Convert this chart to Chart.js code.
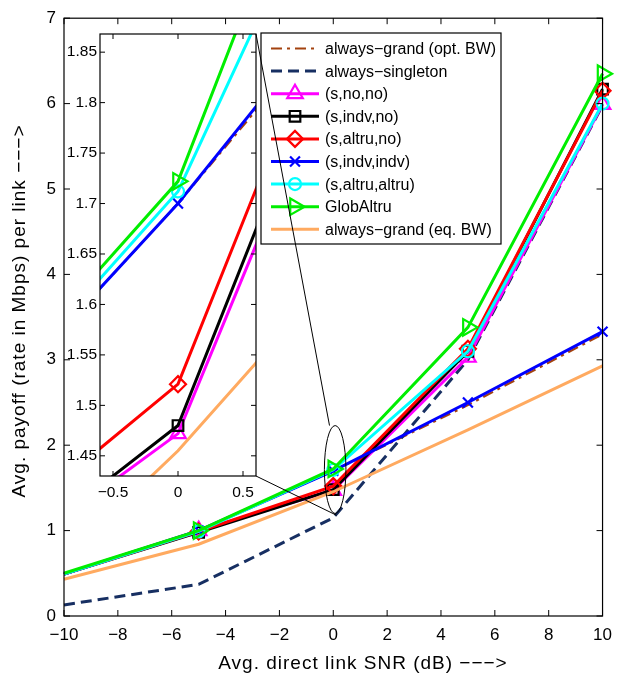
<!DOCTYPE html>
<html>
<head>
<meta charset="utf-8">
<script src="https://cdn.jsdelivr.net/npm/chart.js@4.4.1/dist/chart.umd.min.js"></script>
<style>
    html, body { margin: 0; padding: 0; background: #fff; }
    #contenedor { position: relative; width: 621px; height: 673px; }
    #contenedor canvas { position: absolute; left: 0; top: 0; }
</style>
</head>
<body>
<div id="contenedor">
    <canvas id="graficaPrincipal" width="621" height="673"></canvas>
    <canvas id="graficaZoom" width="621" height="673"></canvas>
</div>
<script>
// valores
const snr = [-10, -5, 0, 5, 10];

const grandOpt    = [0.49, 1.00, 1.70, 2.47, 3.30];
const singleton   = [0.13, 0.37, 1.15, 3.00, 5.98];
const sNoNo       = [0.49, 1.00, 1.472, 3.03, 5.99];
const sIndvNo     = [0.49, 0.98, 1.48, 3.10, 6.17];
const sAltruNo    = [0.49, 0.99, 1.521, 3.13, 6.15];
const sIndvIndv   = [0.49, 1.00, 1.70, 2.50, 3.33];
const sAltruAltru = [0.49, 0.99, 1.712, 3.10, 6.00];
const globAltru   = [0.50, 1.00, 1.722, 3.38, 6.35];
const grandEq     = [0.43, 0.84, 1.455, 2.18, 2.93];

const etiquetas = [
    "always\u2212grand (opt. BW)",
    "always\u2212singleton",
    "(s,no,no)",
    "(s,indv,no)",
    "(s,altru,no)",
    "(s,indv,indv)",
    "(s,altru,altru)",
    "GlobAltru",
    "always\u2212grand (eq. BW)"
];

const ticksX = [-10, -8, -6, -4, -2, 0, 2, 4, 6, 8, 10];
const ticksY = [0, 1, 2, 3, 4, 5, 6, 7];
const ticksZoomX = [-0.5, 0, 0.5];
const ticksZoomY = [1.45, 1.5, 1.55, 1.6, 1.65, 1.7, 1.75, 1.8, 1.85];

const FUENTE = "'Liberation Sans', Arial, Helvetica, sans-serif";
Chart.defaults.font.family = FUENTE;
Chart.defaults.color = "#000";

const estilos = [
    { color: "#a3420f", ancho: 2.2, guion: [11, 5, 3, 5], marca: false },
    { color: "#172f62", ancho: 3,   guion: [11, 6],       marca: false },
    { color: "#ff00ff", ancho: 3,   guion: [], marca: "triangle", radio: 9, giro: 0 },
    { color: "#000000", ancho: 3,   guion: [], marca: "rect",     radio: 7.5, giro: 0 },
    { color: "#ff0000", ancho: 3,   guion: [], marca: "rectRot",  radio: 8, giro: 0 },
    { color: "#0000ff", ancho: 3,   guion: [], marca: "crossRot", radio: 7, giro: 0 },
    { color: "#00ffff", ancho: 3,   guion: [], marca: "circle",   radio: 6, giro: 0 },
    { color: "#00ee00", ancho: 3,   guion: [], marca: "triangle", radio: 9.5, giro: 90 },
    { color: "#ffaa60", ancho: 3,   guion: [], marca: false }
];

const valores = [grandOpt, singleton, sNoNo, sIndvNo, sAltruNo, sIndvIndv, sAltruAltru, globAltru, grandEq];

function menos(v) {
    return String(v).replace("-", "\u2212");
}

function crearDatasets(recortar) {
    return valores.map((serie, i) => {
        const e = estilos[i];
        return {
            label: etiquetas[i],
            data: serie.map((y, k) => ({ x: snr[k], y: y })),
            borderColor: e.color,
            borderWidth: e.ancho,
            borderDash: e.guion,
            borderCapStyle: "butt",
            borderJoinStyle: "miter",
            tension: 0,
            fill: false,
            order: 20 - i,
            clip: recortar ? 0 : false,
            pointStyle: e.marca || "circle",
            pointRadius: e.marca ? serie.map((_, k) => (k === 0 ? 0 : e.radio)) : 0,
            pointRotation: e.giro || 0,
            pointBorderColor: e.color,
            pointBackgroundColor: "rgba(0,0,0,0)",
            pointBorderWidth: 2.2,
            pointHoverRadius: 0
        };
    });
}

// marco con marcas hacia dentro en los cuatro lados
function dibujarMarco(chart, largo) {
    const ctx = chart.ctx;
    const a = chart.chartArea;
    const sx = chart.scales.x;
    const sy = chart.scales.y;
    ctx.save();
    ctx.strokeStyle = "#000";
    ctx.lineWidth = 1.2;
    ctx.setLineDash([]);
    ctx.strokeRect(a.left, a.top, a.right - a.left, a.bottom - a.top);
    ctx.lineWidth = 1;
    ctx.beginPath();
    sx.ticks.forEach(t => {
        const px = sx.getPixelForValue(t.value);
        ctx.moveTo(px, a.bottom); ctx.lineTo(px, a.bottom - largo);
        ctx.moveTo(px, a.top);    ctx.lineTo(px, a.top + largo);
    });
    sy.ticks.forEach(t => {
        const py = sy.getPixelForValue(t.value);
        ctx.moveTo(a.left, py);  ctx.lineTo(a.left + largo, py);
        ctx.moveTo(a.right, py); ctx.lineTo(a.right - largo, py);
    });
    ctx.stroke();
    ctx.restore();
}

function dibujarLeyenda(chart) {
    const ctx = chart.ctx;
    const caja = { x: 261, y: 33, w: 240, h: 211 };
    ctx.save();
    ctx.fillStyle = "#fff";
    ctx.fillRect(caja.x, caja.y, caja.w, caja.h);
    ctx.strokeStyle = "#000";
    ctx.lineWidth = 1.2;
    ctx.strokeRect(caja.x, caja.y, caja.w, caja.h);

    ctx.font = "16px " + FUENTE;
    ctx.textBaseline = "middle";
    ctx.textAlign = "left";

    etiquetas.forEach((texto, i) => {
        const e = estilos[i];
        const y = 48.5 + i * 22.6;
        ctx.strokeStyle = e.color;
        ctx.lineWidth = e.ancho;
        ctx.lineCap = "butt";
        ctx.setLineDash(e.guion);
        ctx.beginPath();
        ctx.moveTo(271, y);
        ctx.lineTo(319, y);
        ctx.stroke();
        ctx.setLineDash([]);
        if (e.marca) {
            ctx.fillStyle = "rgba(0,0,0,0)";
            ctx.lineWidth = 2.2;
            Chart.helpers.drawPoint(ctx, {
                pointStyle: e.marca,
                rotation: e.giro || 0,
                radius: e.radio,
                borderWidth: 2.2
            }, 295, y);
        }
        ctx.fillStyle = "#000";
        ctx.fillText(texto, 325, y + 1);
    });
    ctx.restore();
}

function dibujarTitulos(chart) {
    const ctx = chart.ctx;
    ctx.save();
    ctx.fillStyle = "#000";
    ctx.font = "19px " + FUENTE;
    ctx.letterSpacing = "1px";
    ctx.textAlign = "center";
    ctx.textBaseline = "alphabetic";
    ctx.fillText("Avg. direct link SNR (dB) \u2212\u2212\u2212>", 363, 669);
    ctx.translate(25, 311);
    ctx.rotate(-Math.PI / 2);
    ctx.fillText("Avg. payoff (rate in Mbps) per link \u2212\u2212\u2212>", 0, 0);
    ctx.restore();
}

const pluginPrincipal = {
    id: "decoracionPrincipal",
    afterDraw(chart) {
        dibujarMarco(chart, 6);
        dibujarLeyenda(chart);
        dibujarTitulos(chart);
    }
};

const graficaPrincipal = new Chart(document.getElementById("graficaPrincipal"), {
    type: "line",
    data: { datasets: crearDatasets(false) },
    options: {
        responsive: false,
        animation: false,
        events: [],
        layout: { padding: { left: 0, top: 16, right: 12, bottom: 0 } },
        plugins: { legend: { display: false }, tooltip: { enabled: false } },
        scales: {
            x: {
                type: "linear",
                min: -10,
                max: 10,
                afterFit: s => { s.height = 57; },
                afterBuildTicks: s => { s.ticks = ticksX.map(v => ({ value: v })); },
                grid: { display: false, drawTicks: false },
                border: { display: false },
                ticks: { padding: 9, font: { size: 17 }, callback: v => menos(v), maxRotation: 0 }
            },
            y: {
                type: "linear",
                min: 0,
                max: 7,
                afterFit: s => { s.width = 64; },
                afterBuildTicks: s => { s.ticks = ticksY.map(v => ({ value: v })); },
                grid: { display: false, drawTicks: false },
                border: { display: false },
                ticks: { padding: 8, font: { size: 17 }, callback: v => menos(v) }
            }
        }
    },
    plugins: [pluginPrincipal]
});

// ampliacion alrededor de SNR = 0
const pluginZoom = {
    id: "decoracionZoom",
    beforeDatasetsDraw(chart) {
        const a = chart.chartArea;
        const ctx = chart.ctx;
        ctx.save();
        ctx.fillStyle = "#fff";
        ctx.fillRect(a.left, a.top, a.right - a.left, a.bottom - a.top);
        ctx.restore();
    },
    afterDraw(chart) {
        dibujarMarco(chart, 5);
        const ctx = chart.ctx;
        const a = chart.chartArea;
        const ex = graficaPrincipal.scales.x;
        const ey = graficaPrincipal.scales.y;
        const cx = ex.getPixelForValue(0.07);
        const rx = ex.getPixelForValue(0.47) - cx;
        const yArriba = ey.getPixelForValue(2.23);
        const yAbajo = ey.getPixelForValue(1.2);
        ctx.save();
        ctx.strokeStyle = "#000";
        ctx.lineWidth = 1;
        ctx.beginPath();
        ctx.ellipse(cx, (yArriba + yAbajo) / 2, rx, (yAbajo - yArriba) / 2, 0, 0, Math.PI * 2);
        ctx.stroke();
        ctx.beginPath();
        ctx.moveTo(a.right, a.top);
        ctx.lineTo(ex.getPixelForValue(-0.14), yArriba);
        ctx.moveTo(a.right, a.bottom);
        ctx.lineTo(ex.getPixelForValue(0.12), ey.getPixelForValue(1.18));
        ctx.stroke();
        ctx.restore();
    }
};

const graficaZoom = new Chart(document.getElementById("graficaZoom"), {
    type: "line",
    data: { datasets: crearDatasets(true) },
    options: {
        responsive: false,
        animation: false,
        events: [],
        layout: { padding: { left: 0, top: 34, right: 365, bottom: 0 } },
        plugins: { legend: { display: false }, tooltip: { enabled: false } },
        scales: {
            x: {
                type: "linear",
                min: -0.6,
                max: 0.6,
                afterFit: s => { s.height = 197; },
                afterBuildTicks: s => { s.ticks = ticksZoomX.map(v => ({ value: v })); },
                grid: { display: false, drawTicks: false },
                border: { display: false },
                ticks: { padding: 7, font: { size: 15.5 }, callback: v => menos(v), maxRotation: 0 }
            },
            y: {
                type: "linear",
                min: 1.43,
                max: 1.868,
                afterFit: s => { s.width = 100; },
                afterBuildTicks: s => { s.ticks = ticksZoomY.map(v => ({ value: v })); },
                grid: { display: false, drawTicks: false },
                border: { display: false },
                ticks: { padding: 3, font: { size: 15.5 }, callback: v => String(parseFloat(Number(v).toFixed(2))) }
            }
        }
    },
    plugins: [pluginZoom]
});
</script>
</body>
</html>
